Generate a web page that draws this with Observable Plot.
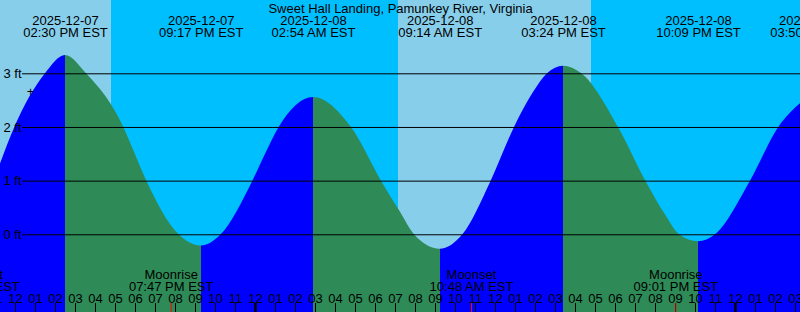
<!DOCTYPE html>
<html>
<head>
<meta charset="utf-8">
<script src="https://cdn.jsdelivr.net/npm/d3@7"></script>
<script src="https://cdn.jsdelivr.net/npm/@observablehq/plot@0.6"></script>
<style>
  html, body { margin: 0; padding: 0; background: #ffffff; }
  #chart svg { display: block; }
</style>
</head>
<body>
<div id="chart"></div>
<script>
// ---------------- data ----------------
const title = "Sweet Hall Landing, Pamunkey River, Virginia";

// tide curve (local time EST, height in ft)
const tideTimes = [
  "2025-12-07T11:15", "2025-12-07T11:58", "2025-12-07T13:30", "2025-12-07T14:30",
  "2025-12-07T15:33", "2025-12-07T17:25", "2025-12-07T17:54", "2025-12-07T18:34",
  "2025-12-07T20:11", "2025-12-07T21:17", "2025-12-07T22:17", "2025-12-07T23:52",
  "2025-12-08T00:33", "2025-12-08T01:11", "2025-12-08T02:54", "2025-12-08T04:48",
  "2025-12-08T06:18", "2025-12-08T07:15", "2025-12-08T07:57", "2025-12-08T09:14",
  "2025-12-08T10:22", "2025-12-08T11:47", "2025-12-08T12:57", "2025-12-08T13:54",
  "2025-12-08T14:36", "2025-12-08T15:24", "2025-12-08T16:19", "2025-12-08T18:09",
  "2025-12-08T19:31", "2025-12-08T20:33", "2025-12-08T21:12", "2025-12-08T22:09",
  "2025-12-08T23:00", "2025-12-09T00:45", "2025-12-09T02:10", "2025-12-09T03:15",
  "2025-12-09T03:50"
];
const tideHeights = [
  1.32, 2.0, 3.0, 3.34,
  3.0, 2.0, 1.58, 1.0,
  0.0, -0.21, 0.0, 1.0,
  1.54, 2.0, 2.56, 2.0,
  1.0, 0.42, 0.0, -0.27,
  0.0, 1.0, 2.0, 2.65,
  3.0, 3.14, 3.0, 2.0,
  1.0, 0.34, 0.0, -0.13,
  0.0, 1.0, 2.0, 2.44,
  2.6
];

// high / low tide events
const extremeTimes = ["2025-12-07T14:30", "2025-12-07T21:17", "2025-12-08T02:54", "2025-12-08T09:14", "2025-12-08T15:24", "2025-12-08T22:09", "2025-12-09T03:50"];
const extremeKinds = ["high", "low", "high", "low", "high", "low", "high"];
const extremeDates = ["2025-12-07", "2025-12-07", "2025-12-08", "2025-12-08", "2025-12-08", "2025-12-08", "2025-12-09"];
const extremeClock = ["02:30 PM EST", "09:17 PM EST", "02:54 AM EST", "09:14 AM EST", "03:24 PM EST", "10:09 PM EST", "03:50 AM EST"];

// moon events
const moonTimes = ["2025-12-07T10:07", "2025-12-07T19:47", "2025-12-08T10:48", "2025-12-08T21:01"];
const moonNames = ["Moonset", "Moonrise", "Moonset", "Moonrise"];
const moonClock = ["10:07 AM EST", "07:47 PM EST", "10:48 AM EST", "09:01 PM EST"];

// sun events: daylight / night boundaries
const sunTimes = ["2025-12-07T16:48", "2025-12-08T07:09", "2025-12-08T16:48"];
const sunKinds = ["sunset", "sunrise", "sunset"];

// axis
const depthTicks = [0, 1, 2, 3];
const depthLabels = ["0 ft", "1 ft", "2 ft", "3 ft"];
const viewStart = "2025-12-07T11:15";
const viewEnd = "2025-12-09T03:15";
const depthDomain = [-1.448, 4.366];

// current-time mark
const markTime = "2025-12-07T12:45";
const markHeight = 2.66;

// colours (XTide defaults)
const dayColor = "#87CEEB";
const nightColor = "#00BFFF";
const floodColor = "#0000FF";
const ebbColor = "#2E8B57";

// ---------------- build ----------------
const T = s => new Date(s + ":00Z");
const t0 = T(viewStart), t1 = T(viewEnd);

const tide = tideTimes.map((s, i) => ({time: T(s), h: tideHeights[i]}));

// sky periods
const skyBounds = [t0, ...sunTimes.map(T), t1];
const sky = [];
let isDay = sunKinds[0] === "sunset";
for (let i = 0; i < skyBounds.length - 1; i++) {
  sky.push({start: skyBounds[i], end: skyBounds[i + 1], color: isDay ? dayColor : nightColor});
  isDay = !isDay;
}

const extremes = extremeTimes.map((s, i) => ({
  time: T(s), kind: extremeKinds[i], label: extremeDates[i] + "\n" + extremeClock[i]
}));
const moons = moonTimes.map((s, i) => ({time: T(s), label: moonNames[i] + "\n" + moonClock[i]}));

const hours = d3.utcHour.range(d3.utcHour.offset(t0, -1), d3.utcHour.offset(t1, 1));
const fmtHour = d3.utcFormat("%I");

// gradient defs for flood / ebb colouring of the water
function waterDefs(index, scales, values, dimensions) {
  const ns = "http://www.w3.org/2000/svg";
  const defs = document.createElementNS(ns, "defs");
  const g = document.createElementNS(ns, "linearGradient");
  g.setAttribute("id", "waterFill");
  g.setAttribute("gradientUnits", "userSpaceOnUse");
  g.setAttribute("x1", 0); g.setAttribute("x2", dimensions.width);
  g.setAttribute("y1", 0); g.setAttribute("y2", 0);
  const w = dimensions.width;
  const addStop = (o, c) => {
    const st = document.createElementNS(ns, "stop");
    st.setAttribute("offset", Math.max(0, Math.min(1, o)));
    st.setAttribute("stop-color", c);
    g.appendChild(st);
  };
  let c = extremes[0].kind === "high" ? floodColor : ebbColor;
  addStop(0, c);
  for (const e of extremes) {
    const o = scales.x(e.time) / w;
    addStop(o, c);
    c = e.kind === "high" ? ebbColor : floodColor;
    addStop(o, c);
  }
  addStop(1, c);
  defs.appendChild(g);
  return defs;
}

const chart = Plot.plot({
  width: 800,
  height: 312,
  marginTop: 0, marginRight: 0, marginBottom: 0, marginLeft: 0,
  x: {type: "utc", domain: [t0, t1], axis: null},
  y: {domain: depthDomain, axis: null},
  color: {type: "identity"},
  style: {fontFamily: "'Liberation Sans', Arial, sans-serif", fontSize: "13px", color: "black", background: "transparent", overflow: "hidden"},
  marks: [
    waterDefs,
    Plot.rect(sky, {x1: "start", x2: "end", fill: "color"}),
    Plot.areaY(tide, {x: "time", y1: depthDomain[0], y2: "h", curve: "monotone-x", fill: "url(#waterFill)"}),
    Plot.ruleY(depthTicks, {y: d => d, insetLeft: 22, stroke: "black", strokeWidth: 1}),
    Plot.text(depthTicks, {y: d => d, text: (d, i) => depthLabels[i], frameAnchor: "left", dx: 3, textAnchor: "start", lineAnchor: "middle", fill: "black"}),
    Plot.text([title], {text: d => d, frameAnchor: "top", dy: 12, lineAnchor: "bottom", fill: "black"}),
    Plot.text(extremes, {x: "time", text: "label", frameAnchor: "top", dy: 36, lineAnchor: "bottom", lineHeight: 12 / 13, fill: "black"}),
    Plot.text(moons, {x: "time", text: "label", frameAnchor: "bottom", dy: -22, lineAnchor: "bottom", lineHeight: 12 / 13, fill: "black"}),
    Plot.text(hours, {x: d => d, text: d => fmtHour(d), frameAnchor: "bottom", dy: -10, lineAnchor: "bottom", fill: "black"}),
    Plot.ruleX(hours.filter(d => d.getUTCHours() !== 0), {x: d => d, insetTop: 303, stroke: "black", strokeWidth: 1}),
    Plot.ruleX(hours.filter(d => d.getUTCHours() === 0), {x: d => d, insetTop: 303, stroke: "black", strokeWidth: 2.5}),
    Plot.ruleX(moons, {x: "time", insetTop: 303, stroke: "red", strokeWidth: 1}),
    Plot.text([0], {x: () => T(markTime), y: () => markHeight, text: () => "+", lineAnchor: "middle", fill: "black"})
  ]
});
document.getElementById("chart").appendChild(chart);
</script>
</body>
</html>
